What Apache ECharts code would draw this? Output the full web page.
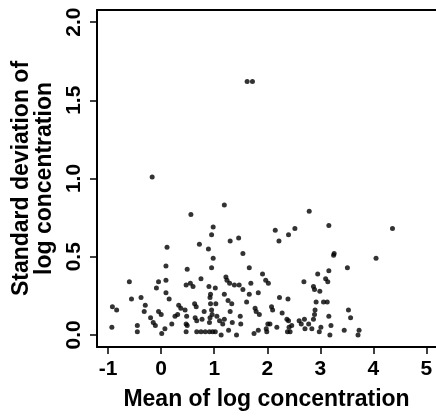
<!DOCTYPE html>
<html>
<head>
<meta charset="utf-8">
<script src="https://cdn.jsdelivr.net/npm/echarts@6/dist/echarts.min.js"></script>
<style>
html, body { margin: 0; padding: 0; background: #fff; }
#chart { width: 436px; height: 419px; }
</style>
</head>
<body>
<div id="chart"></div>
<script>
// mean and standard deviation of log concentration, one entry per sample
var meanLog = [
    1.62, 1.72, -0.17, 1.19,
    0.11, 0.09, -0.60, -0.05, 0.09, -0.09, -0.56, -0.38, 0.09, 0.15,
    -0.92, -0.84, -0.30, -0.32, -0.05, 0.00, -0.20, -0.15, -0.11, -0.93,
    -0.45, -0.45, 0.07, 0.01, 0.20, 0.26,
    0.56, 0.98, 0.95, 0.72, 1.30, 1.46, 0.89, 1.54, 0.98, 0.95,
    0.49, 1.66, 0.75, 0.47, 0.55, 0.60, 0.90, 1.02, 1.22, 1.24,
    1.29, 1.38, 1.47, 1.54, 0.93, 0.92, 1.19, 1.26, 1.33, 1.66,
    1.61, 0.93, 1.03, 0.33, 0.37, 0.63, 0.66, 0.45, 0.81, 0.95,
    0.96, 1.30, 1.49, 1.50, 0.31, 0.48, 0.64, 0.67, 0.77, 0.92,
    0.91, 1.05, 1.19, 1.10, 1.16, 1.34, 0.47, 0.49, 0.47, 0.67,
    0.75, 0.83, 0.91, 0.97, 1.02, 1.13, 1.27, 1.42,
    2.79, 2.15, 2.52, 2.40, 2.22, 1.91, 1.97, 2.02, 1.69, 2.69,
    2.95, 2.87, 2.89, 2.99, 1.83, 2.23, 2.39, 2.92, 3.06, 1.77,
    1.79, 1.85, 2.08, 2.10, 2.28, 2.90, 2.89, 2.37, 2.40, 2.46,
    2.60, 2.64, 2.70, 2.78, 2.87, 2.01, 2.05, 2.18, 1.98, 1.99,
    1.83, 1.75, 2.38, 2.43, 2.41, 2.71, 2.84, 2.98, 3.01,
    3.16, 4.36, 3.26, 3.25, 4.05, 3.51, 3.16, 3.10, 3.14, 3.13,
    3.16, 3.53, 3.57, 3.20, 3.18, 3.45, 3.73, 3.71
];
var sdLog = [
    1.62, 1.62, 1.01, 0.83,
    0.56, 0.44, 0.34, 0.34, 0.35, 0.30, 0.23, 0.24, 0.27, 0.23,
    0.18, 0.16, 0.19, 0.15, 0.15, 0.13, 0.11, 0.08, 0.06, 0.05,
    0.06, 0.02, 0.04, 0.01, 0.07, 0.12,
    0.77, 0.69, 0.64, 0.58, 0.60, 0.62, 0.55, 0.52, 0.49, 0.43,
    0.42, 0.43, 0.36, 0.32, 0.33, 0.31, 0.31, 0.30, 0.37, 0.35,
    0.33, 0.32, 0.32, 0.29, 0.26, 0.24, 0.26, 0.22, 0.20, 0.26,
    0.21, 0.20, 0.20, 0.19, 0.17, 0.20, 0.18, 0.16, 0.15, 0.16,
    0.13, 0.15, 0.12, 0.07, 0.13, 0.12, 0.11, 0.09, 0.10, 0.11,
    0.08, 0.12, 0.10, 0.09, 0.07, 0.08, 0.07, 0.06, 0.02, 0.02,
    0.02, 0.02, 0.02, 0.02, 0.02, 0.00, 0.03, 0.00,
    0.79, 0.67, 0.68, 0.64, 0.60, 0.39, 0.35, 0.33, 0.33, 0.34,
    0.39, 0.31, 0.29, 0.28, 0.27, 0.24, 0.23, 0.21, 0.21, 0.17,
    0.15, 0.13, 0.18, 0.16, 0.14, 0.16, 0.13, 0.10, 0.09, 0.06,
    0.09, 0.07, 0.10, 0.07, 0.10, 0.07, 0.07, 0.05, 0.04, 0.02,
    0.03, 0.01, 0.02, 0.02, 0.05, 0.04, 0.04, 0.02, 0.05,
    0.70, 0.68, 0.52, 0.51, 0.49, 0.43, 0.41, 0.36, 0.34, 0.21,
    0.12, 0.16, 0.11, 0.06, 0.00, 0.03, 0.03, 0.00
];
var xTicks = [-1, 0, 1, 2, 3, 4, 5];
var yTicks = [0, 0.5, 1, 1.5, 2];

var points = [];
for (var i = 0; i < meanLog.length; i++) {
    points.push([meanLog[i], sdLog[i]]);
}

var chart = echarts.init(document.getElementById('chart'));
var font = 'Liberation Sans, Arial, sans-serif';
var axisLineStyle = { color: '#000', width: 2 };

chart.setOption({
    animation: false,
    backgroundColor: '#fff',
    grid: { left: 97, top: 10, right: 0, bottom: 72 },
    xAxis: [
        {
            type: 'value',
            min: -1.21,
            max: 5.18,
            position: 'bottom',
            name: 'Mean of log concentration',
            nameLocation: 'middle',
            nameGap: 41,
            nameTextStyle: { color: '#000', fontSize: 23, fontWeight: 'bold', fontFamily: font },
            axisLine: { show: true, onZero: false, lineStyle: axisLineStyle },
            axisTick: { show: true, length: 7, customValues: xTicks, lineStyle: { color: '#000', width: 1.5 } },
            axisLabel: {
                customValues: xTicks,
                color: '#000', fontSize: 21, fontWeight: 'bold', fontFamily: font, margin: 12,
                formatter: function (v) { return String(v); }
            },
            splitLine: { show: false }
        },
        {
            // top edge of the box
            type: 'value',
            min: -1.21,
            max: 5.18,
            position: 'top',
            axisLine: { show: true, onZero: false, lineStyle: axisLineStyle },
            axisTick: { show: false },
            axisLabel: { show: false },
            splitLine: { show: false }
        }
    ],
    yAxis: {
        type: 'value',
        min: -0.077,
        max: 2.077,
        name: 'Standard deviation of\nlog concentration',
        nameLocation: 'middle',
        nameRotate: 90,
        nameGap: 22,
        nameTextStyle: { color: '#000', fontSize: 23, fontWeight: 'bold', lineHeight: 23, fontFamily: font },
        axisLine: { show: true, onZero: false, lineStyle: axisLineStyle },
        axisTick: { show: true, length: 7, customValues: yTicks, lineStyle: { color: '#000', width: 1.5 } },
        axisLabel: {
            customValues: yTicks,
            rotate: 90,
            color: '#000', fontSize: 21, fontWeight: 'bold', fontFamily: font, margin: 12,
            formatter: function (v) { return v.toFixed(1); }
        },
        splitLine: { show: false }
    },
    series: [
        {
            type: 'scatter',
            xAxisIndex: 0,
            symbol: 'circle',
            symbolSize: 5,
            itemStyle: { color: '#000' },
            data: points
        }
    ]
});
</script>
</body>
</html>
